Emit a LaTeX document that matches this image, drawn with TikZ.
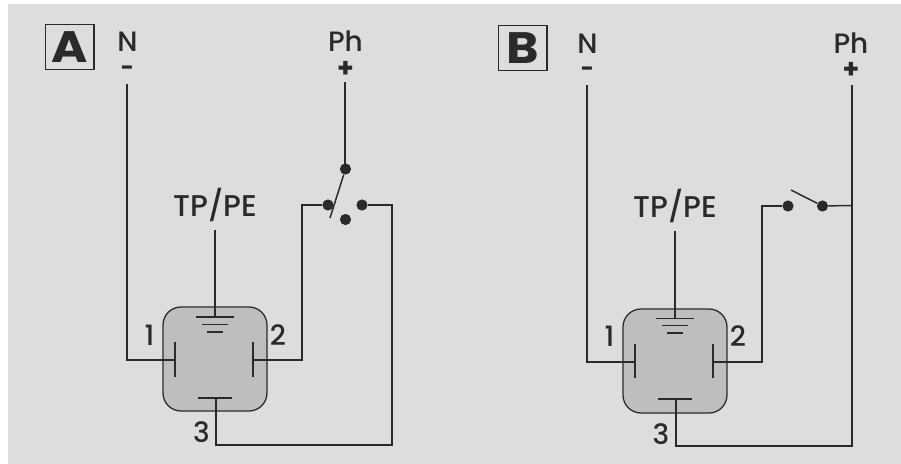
\documentclass[tikz,border=0pt]{standalone}
\usepackage{fontspec}
\setmainfont{Poppins Medium}
\newfontfamily\heavyfont[BoldFont=*,BoldFeatures={FakeBold=1.5}]{Poppins Bold}
\newfontfamily\signfont{Poppins Bold}
\definecolor{bgc}{HTML}{DCDDDC}
\definecolor{relayc}{HTML}{BDBEC0}
\definecolor{ink}{HTML}{2A2A2A}
\tikzset{
  wire/.style={draw=ink,line width=1.1pt,line join=miter},
  thinwire/.style={draw=ink,line width=1pt},
  relay/.style={draw=ink,fill=relayc,line width=0.95pt,rounded corners=13.5pt},
  dotnode/.style={circle,fill=ink,inner sep=0pt,minimum size=8.4pt},
  lab/.style={anchor=base,text=ink,font=\fontsize{21pt}{24pt}\selectfont,inner sep=0pt},
  pelab/.style={anchor=base,text=ink,font=\fontsize{22.5pt}{24pt}\selectfont,inner sep=0pt},
  minussign/.style={anchor=base,text=ink,font=\fontsize{17pt}{18pt}\signfont,inner sep=0pt},
  plussign/.style={anchor=base,text=ink,font=\fontsize{20pt}{22pt}\signfont,inner sep=0pt},
  num/.style={anchor=base,text=ink,font=\fontsize{21pt}{24pt}\selectfont,inner sep=0pt},
  tag/.style={draw=ink,line width=1pt,minimum width=36.5pt,minimum height=34pt,inner sep=0pt,text=ink}
}
\begin{document}
\begin{tikzpicture}[x=0.75pt,y=-0.75pt]
\useasboundingbox (0,0) rectangle (901,464);
\fill[bgc] (8,4) rectangle (901,464);
% ---------- Panel A
\node[tag] (tagA) at (69.5,47) {\fontsize{33pt}{34pt}\heavyfont\scalebox{1.12}[1]{A}};
\node[lab] (nA) at (127.5,51) {N};
\node[minussign] (minusA) at (127.5,75) {-};
\node[lab] (phA) at (345.5,51) {Ph};
\node[plussign] (plusA) at (345.5,77) {+};
\node[pelab] (peA) at (215.5,216) {TP/PE};
\draw[relay] (163,307) rectangle (267,411);
\coordinate (topA) at (215,317);
\coordinate (c1A) at (175,360);
\coordinate (c2A) at (253,360);
\coordinate (c3A) at (216,398);
\node[dotnode] (swtA) at (345.5,169) {};
\node[dotnode] (swlA) at (328,205) {};
\node[dotnode] (swrA) at (362,205) {};
\node[dotnode] (swbA) at (345.5,219.5) {};
\coordinate (armA) at (330,218);
\draw[wire] (127,84) |- (c1A);
\draw[thinwire] (175,342) -- (175,377);
\draw[thinwire] (253,342) -- (253,377);
\draw[thinwire] (198,398) -- (232,398);
\draw[wire] (215,230) -- (topA);
\draw[thinwire] (196,317) -- (234,317);
\draw[thinwire] (202,324.5) -- (228,324.5);
\draw[thinwire] (207,332) -- (223,332);
\draw[wire] (c2A) -- (302,360) |- (swlA);
\draw[wire] (c3A) |- (392,445) |- (swrA);
\draw[wire] (345,82) -- (345,169);
\draw[wire] (swtA) -- (armA);
\node[num] (n1A) at (149.5,345) {1};
\node[num] (n2A) at (278,345) {2};
\node[num] (n3A) at (201.5,442) {3};
% ---------- Panel B
\node[tag] (tagB) at (522.5,48) {\fontsize{33pt}{34pt}\heavyfont\scalebox{1.12}[1]{B}};
\node[lab] (nB) at (587.5,53) {N};
\node[minussign] (minusB) at (587.5,76) {-};
\node[lab] (phB) at (851,53) {Ph};
\node[plussign] (plusB) at (851,78) {+};
\node[pelab] (peB) at (675.5,217) {TP/PE};
\draw[relay] (623,309) rectangle (727,413);
\coordinate (topB) at (675,319);
\coordinate (c1B) at (635,362);
\coordinate (c2B) at (713,362);
\coordinate (c3B) at (676,399);
\node[dotnode] (swlB) at (788,206) {};
\node[dotnode] (swrB) at (822.5,206) {};
\coordinate (armB) at (791,190);
\coordinate (jB) at (852,205.5);
\draw[wire] (587,85) |- (c1B);
\draw[thinwire] (635,344) -- (635,378);
\draw[thinwire] (713,344) -- (713,378);
\draw[thinwire] (658,399) -- (692,399);
\draw[wire] (675,231) -- (topB);
\draw[thinwire] (656,318.5) -- (694,318.5);
\draw[thinwire] (662,325.5) -- (688,325.5);
\draw[thinwire] (667,333) -- (683,333);
\draw[wire] (c2B) -- (762,362) |- (swlB);
\draw[wire] (c3B) |- (852,446) -- (852,85);
\draw[wire] (swrB) -- (jB);
\draw[wire] (swrB) -- (armB);
\node[num] (n1B) at (609.5,346) {1};
\node[num] (n2B) at (738,346) {2};
\node[num] (n3B) at (661,444) {3};
\end{tikzpicture}
\end{document}
